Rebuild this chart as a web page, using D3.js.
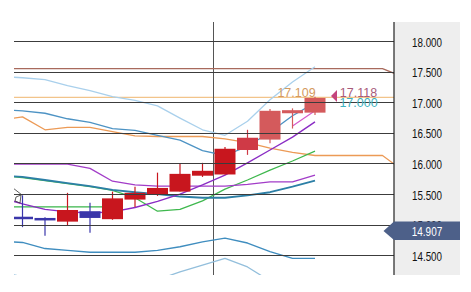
<!DOCTYPE html>
<html><head><meta charset="utf-8">
<script src="https://cdn.jsdelivr.net/npm/d3@7"></script>
<style>html,body{margin:0;padding:0;background:#fff;}svg{display:block;}</style>
</head><body>
<svg id="c" width="471" height="292"></svg>
<script>
// ---- data ----
const candleIndex = [0,1,2,3,4,5,6,7,8,9,10,11,12,13];
const candleOpen  = [15.13,15.11,15.05,15.22,15.09,15.41,15.50,15.54,15.80,15.82,16.22,16.39,16.82,16.83];
const candleHigh  = [15.48,15.12,15.52,15.36,15.54,15.62,15.85,15.99,16.01,16.27,16.55,16.89,16.90,17.09];
const candleLow   = [14.96,14.82,14.98,14.87,15.08,15.29,15.47,15.54,15.78,15.82,16.14,16.33,16.57,16.79];
const candleClose = [15.10,15.07,15.24,15.11,15.43,15.52,15.60,15.83,15.88,16.24,16.42,16.86,16.87,17.07];

const lineIndex = [-1,0,1,2,3,4,5,6,7,8,9,10,11,12,13];
const bandUpper3 = [17.42,17.40,17.37,17.27,17.19,17.09,17.03,16.94,16.74,16.55,16.46,16.69,17.04,17.33,17.58];
const bandUpper2 = [16.88,16.86,16.82,16.73,16.67,16.57,16.54,16.46,16.38,16.21,16.13,16.28,16.51,16.78,16.99];
const bandMiddle = [15.80,15.78,15.73,15.68,15.63,15.57,15.53,15.50,15.46,15.44,15.44,15.48,15.53,15.62,15.72];
const bandLower2 = [14.73,14.71,14.61,14.58,14.55,14.55,14.55,14.58,14.64,14.72,14.78,14.70,14.56,14.45,14.45];
const bandLower3 = [14.23,14.15,14.05,13.97,13.92,13.90,13.90,14.10,14.23,14.34,14.45,14.31,14.08,13.87,13.82];
const purpleUpper = [15.99,15.99,15.99,15.99,15.92,15.71,15.65,15.63,15.63,15.63,15.63,15.66,15.70,15.70,15.81];
const purpleLower = [15.44,15.34,15.25,15.21,15.19,15.21,15.28,15.38,15.50,15.65,15.81,16.01,16.22,16.43,16.68];
const greenLine   = [15.80,15.77,15.72,15.67,15.62,15.56,15.44,15.22,15.25,15.39,15.58,15.73,15.89,16.04,16.20];
const greenFlatIndex = [-1,0,1,2,3,4];
const greenFlat      = [15.29,15.29,15.29,15.29,15.29,15.29];
const pinkIndex = [12,13];
const pinkLine  = [16.61,16.86];

const spanIndex = [-1,0,1,2,3,4,5,6,7,8,9,10,11,12,13,14,15,16,17];
const orangeSpan = [16.71,16.76,16.55,16.59,16.59,16.52,16.45,16.44,16.44,16.44,16.40,16.34,16.25,16.18,16.13,16.13,16.13,16.13,15.86];
const brownSpan  = [17.55,17.55,17.55,17.55,17.55,17.55,17.55,17.55,17.55,17.55,17.55,17.55,17.55,17.55,17.55,17.55,17.55,17.55,17.40];

const levelLine = 17.08;
const separatorIndex = 8.48;
const tickValues = [14.5,15.0,15.5,16.0,16.5,17.0,17.5,18.0];
const currentPrice = 14.907;
const noteHigh = "17.109", noteAsk = "17.118", noteBid = "17.000";

// ---- layout ----
const L = 14, R = 394, T = 22, B = 275;
const x = d3.scaleLinear().domain([0,16]).range([22.5,382.5]);
const y = d3.scaleLinear().domain([14.5,18]).range([255.3,41]);
const fmt = d3.format(".3f");

const svg = d3.select("#c");
svg.append("defs").append("clipPath").attr("id","clip")
  .append("rect").attr("x",L).attr("y",T).attr("width",R-L).attr("height",B-T);

// axis panel
svg.append("rect").attr("x",R).attr("y",T).attr("width",460-R).attr("height",B-T).attr("fill","#eeeeee");

const plot = svg.append("g").attr("clip-path","url(#clip)");

// grid lines via axis
const grid = svg.append("g").attr("transform",`translate(${R},0)`)
  .call(d3.axisLeft(y).tickValues(tickValues).tickSize(R-L).tickFormat(""));
grid.select(".domain").remove();
grid.selectAll("line").attr("stroke","#3c3c3c").attr("stroke-width",1).attr("shape-rendering","crispEdges");

// horizontal level line
plot.append("line").attr("x1",L).attr("x2",R).attr("y1",y(levelLine)).attr("y2",y(levelLine))
  .attr("stroke","#f2c48a").attr("stroke-width",1.2);

// separator
plot.append("line").attr("x1",x(separatorIndex)).attr("x2",x(separatorIndex)).attr("y1",T).attr("y2",B)
  .attr("stroke","#555").attr("stroke-width",1).attr("shape-rendering","crispEdges");

function drawLine(idx, vals, color, w){
  const ln = d3.line().x((d,i)=>x(idx[i])).y(d=>y(d));
  plot.append("path").datum(vals).attr("d",ln).attr("fill","none")
    .attr("stroke",color).attr("stroke-width",w).attr("stroke-linejoin","round");
}
drawLine(spanIndex, brownSpan, "#a86a5c", 1.3);
drawLine(spanIndex, orangeSpan, "#ec9a56", 1.3);
drawLine(lineIndex, bandUpper3, "#a9d0ec", 1.3);
drawLine(lineIndex, bandLower3, "#93bfdc", 1.3);
drawLine(lineIndex, bandUpper2, "#4d93c4", 1.3);
drawLine(lineIndex, bandLower2, "#3f8dbf", 1.4);
drawLine(greenFlatIndex, greenFlat, "#39b54a", 1.3);
drawLine(lineIndex, greenLine, "#3fb84e", 1.3);
drawLine(lineIndex, bandMiddle, "#2c7fa6", 1.8);
drawLine(lineIndex, purpleUpper, "#a23cc8", 1.3);
drawLine(lineIndex, purpleLower, "#8a2cc4", 1.4);
drawLine(pinkIndex, pinkLine, "#d45acb", 1.2);

// candles
const bw = 21;
const cg = plot.append("g");
candleIndex.forEach((idx,i)=>{
  const up = candleClose[i] >= candleOpen[i];
  let col = up ? "#c8161e" : "#3a36aa";
  if (i === 10) col = "#cf3a46";
  if (i >= 11) col = "#d45a5c";
  cg.append("line").attr("x1",x(idx)).attr("x2",x(idx))
    .attr("y1",y(candleHigh[i])).attr("y2",y(candleLow[i]))
    .attr("stroke",col).attr("stroke-width",1.2);
  const top = y(Math.max(candleOpen[i],candleClose[i]));
  const bot = y(Math.min(candleOpen[i],candleClose[i]));
  cg.append("rect").attr("x",x(idx)-bw/2).attr("y",top).attr("width",bw)
    .attr("height",Math.max(bot-top,2.5)).attr("fill",col);
});

// small icon at left
plot.append("path").attr("d","M13,188 L22,195 M16,197 L21,195 L20,203 L15,201 Z")
  .attr("fill","none").attr("stroke","#333").attr("stroke-width",0.8);

// axis border
svg.append("line").attr("x1",R).attr("x2",R).attr("y1",T).attr("y2",B)
  .attr("stroke","#222").attr("stroke-width",1.2);

// tick labels
const lab = svg.append("g").attr("transform",`translate(${R},0)`)
  .call(d3.axisRight(y).tickValues(tickValues).tickSize(0).tickFormat(fmt));
lab.select(".domain").remove();
lab.selectAll("text").attr("x",33).attr("dy",null).attr("y",5)
  .attr("text-anchor","middle").attr("fill","#111")
  .attr("font-family","'Liberation Sans Narrow','Arial Narrow','Liberation Sans',sans-serif")
  .attr("font-size",13).attr("textLength",30).attr("lengthAdjust","spacingAndGlyphs");

// current price tag
const cy = y(currentPrice);
svg.append("path")
  .attr("d",`M${R-10.5},${cy+0.5} L${R},${cy-9} L460,${cy-9} L460,${cy+9.5} L${R},${cy+9.5} Z`)
  .attr("fill","#4d6089");
svg.append("text").attr("x",427).attr("y",cy+5.5).attr("text-anchor","middle")
  .attr("fill","#fff").attr("font-family","'Liberation Sans Narrow','Arial Narrow','Liberation Sans',sans-serif")
  .attr("font-size",13).attr("textLength",30.5).attr("lengthAdjust","spacingAndGlyphs")
  .text(fmt(currentPrice));

// notes
const nf = "'Liberation Sans',Arial,sans-serif";
svg.append("text").attr("x",296.5).attr("y",96.5).attr("text-anchor","middle")
  .attr("font-family",nf).attr("font-size",12.5).attr("fill","#d49a5e").text(noteHigh);
svg.append("path").attr("d","M331,96 L337,90 L337,102 Z").attr("fill","#c4447c");
svg.append("text").attr("x",358.5).attr("y",96.5).attr("text-anchor","middle")
  .attr("font-family",nf).attr("font-size",12.5).attr("fill","#a85a7a").text(noteAsk);
svg.append("text").attr("x",358.5).attr("y",106.5).attr("text-anchor","middle")
  .attr("font-family",nf).attr("font-size",12.5).attr("fill","#3eb2c0").text(noteBid);
</script>
</body></html>
